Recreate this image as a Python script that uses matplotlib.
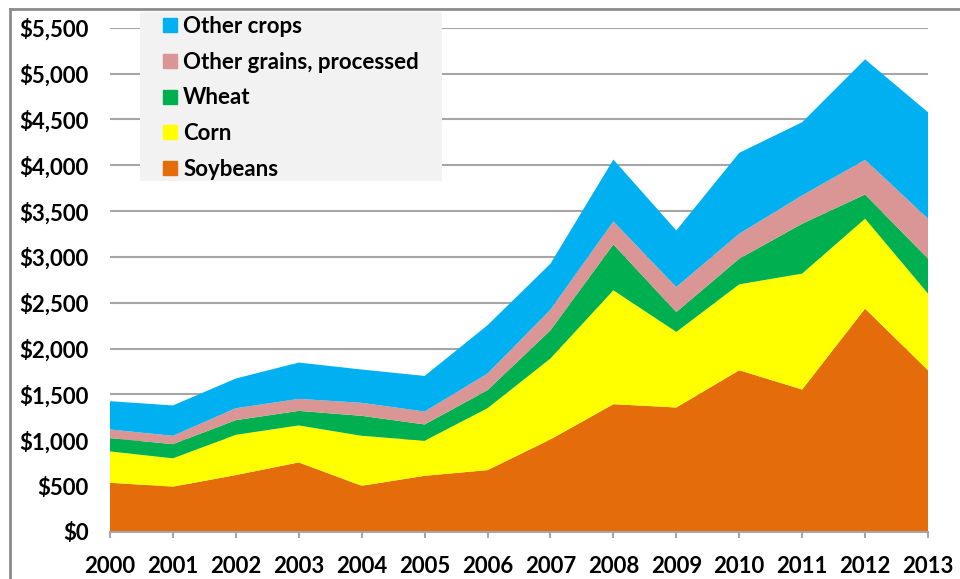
import numpy as np
import matplotlib.pyplot as plt
from matplotlib.lines import Line2D
from matplotlib.patches import Rectangle
from matplotlib.ticker import FuncFormatter

years = list(range(2000, 2014))
soybeans = [537, 494, 621, 759, 504, 613, 675, 1010, 1394, 1358, 1764, 1554, 2436, 1764]
corn = [342, 309, 439, 403, 545, 382, 675, 882, 1242, 824, 937, 1264, 981, 836]
wheat = [145, 155, 160, 159, 218, 178, 197, 308, 501, 217, 280, 544, 264, 381]
other_grains = [94, 91, 130, 131, 142, 141, 181, 225, 250, 273, 272, 309, 378, 436]
other_crops = [309, 331, 324, 396, 363, 388, 527, 501, 675, 617, 882, 798, 1096, 1161]

labels = ["Soybeans", "Corn", "Wheat", "Other grains, processed", "Other crops"]
colors = ["#E46C0A", "#FFFF00", "#00B050", "#D99694", "#00B0F0"]

plt.rcParams['font.family'] = ['Lato', 'DejaVu Sans']
plt.rcParams['font.weight'] = 'bold'

fig = plt.figure(figsize=(9.6, 5.79), dpi=100)
ax = fig.add_axes([110/960, 47/579, 818/960, (532-27.7)/579])

ax.stackplot(years, soybeans, corn, wheat, other_grains, other_crops,
             colors=colors, linewidth=0, zorder=2)

ax.set_xlim(2000, 2013)
ax.set_ylim(0, 5500)
ax.set_yticks(np.arange(0, 5501, 500))
ax.yaxis.set_major_formatter(FuncFormatter(lambda v, p: "${:,.0f}".format(v)))
ax.set_xticks(years)
ax.grid(axis='y', color='#a6a6a6', linewidth=1.5, zorder=1)
ax.set_axisbelow(True)
for s in ['left', 'right', 'top']:
    ax.spines[s].set_visible(False)
ax.spines['bottom'].set_color('#a6a6a6')
ax.spines['bottom'].set_linewidth(1.5)
ax.spines['bottom'].set_zorder(3)
ax.tick_params(axis='y', length=0, pad=15.5, labelsize=16)
ax.tick_params(axis='x', length=4, width=1.5, color='#a6a6a6', pad=13, labelsize=16)

# legend background box
fig.add_artist(Rectangle((140/960, 1 - 181/579), 302/960, 169/579,
                         transform=fig.transFigure, facecolor='#f2f2f2',
                         edgecolor='none', zorder=4))

handles = [Line2D([], [], marker='s', linestyle='none', markersize=9.5,
                  markerfacecolor=c, markeredgecolor=c)
           for c in colors[::-1]]
leg = fig.legend(handles, labels[::-1], loc='upper left',
                 bbox_to_anchor=(161/960, 1 - 16/579), frameon=False,
                 fontsize=16, handlelength=0.78, handletextpad=0.22,
                 labelspacing=0.66, borderpad=0, borderaxespad=0)
leg.set_zorder(5)

# screenshot border on left and top
fig.add_artist(Line2D([10/960, 10/960], [0, 1 - 9/579], transform=fig.transFigure,
                      color='#8c8c8c', linewidth=2))
fig.add_artist(Line2D([10/960, 1], [1 - 9/579, 1 - 9/579], transform=fig.transFigure,
                      color='#8c8c8c', linewidth=2))

fig.savefig('out.png', dpi=100)
